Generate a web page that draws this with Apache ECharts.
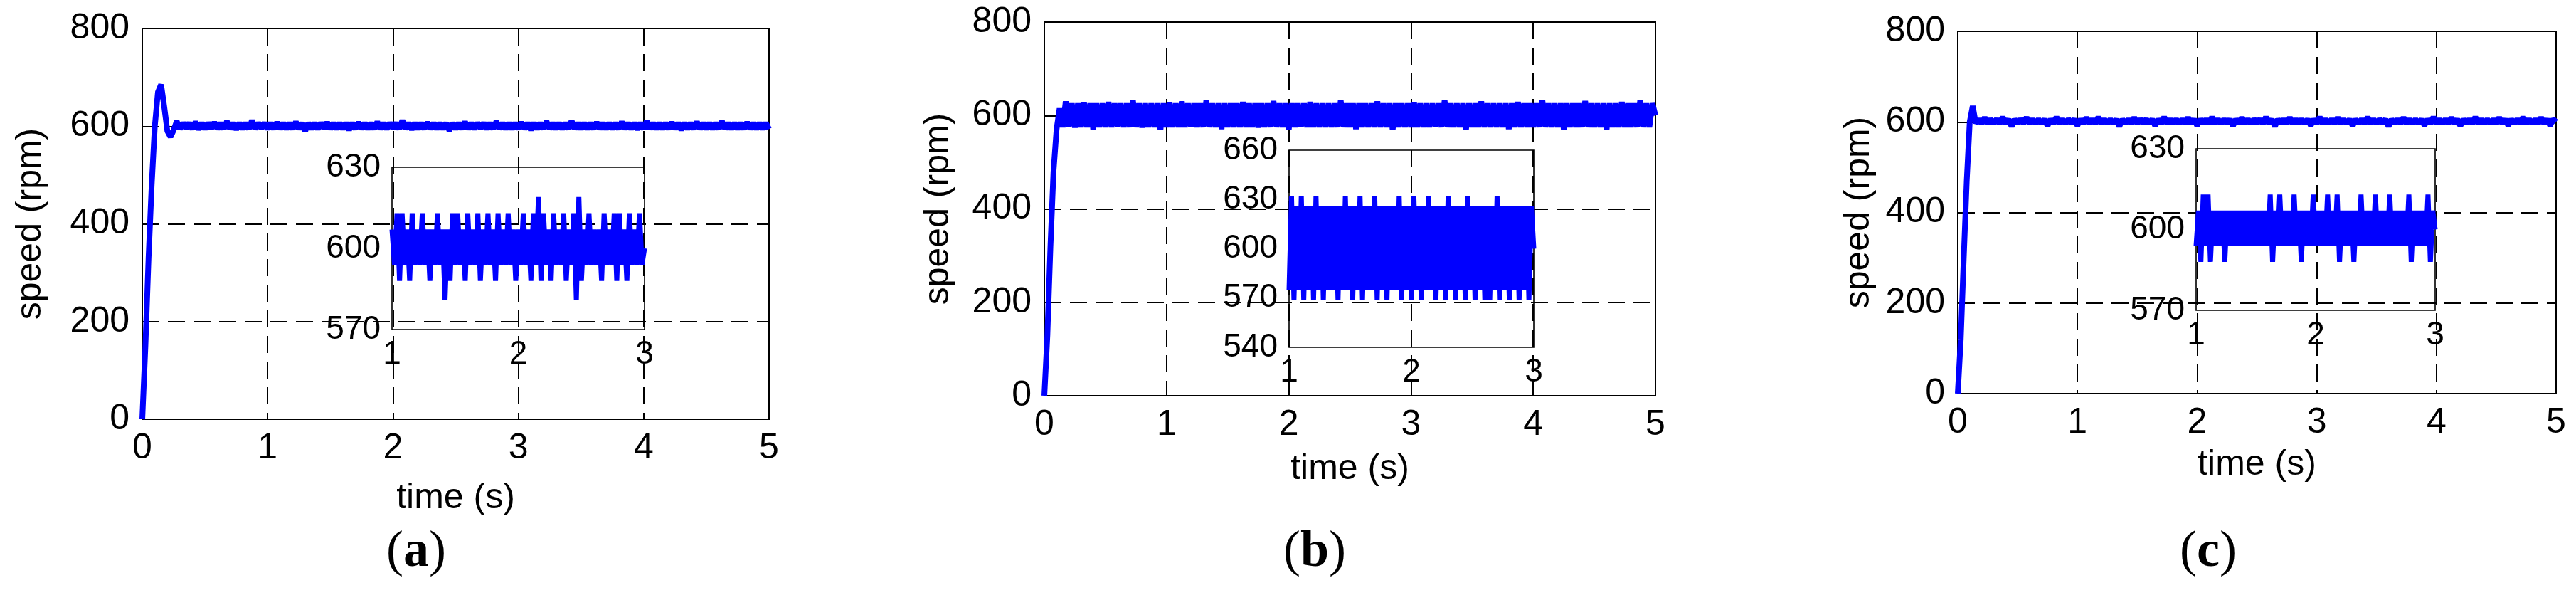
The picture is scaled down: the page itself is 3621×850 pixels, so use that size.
<!DOCTYPE html>
<html><head><meta charset="utf-8">
<script src="https://cdn.jsdelivr.net/npm/echarts@6/dist/echarts.min.js"></script>
<style>html,body{margin:0;padding:0;background:#fff}#c{width:3621px;height:850px}</style>
</head><body><div id="c"></div>
<script>
// Main curves: samples every 0.025 s from 0 to 5 s
const mainStep = 0.025;
const mainA = [0,150,330,480,600,670,685,640,590,578,592,
610,594,607,595,607,594,609,593,607,594,607,595,608,594,607,594,610,594,607,593,
607,594,607,594,612,594,607,595,607,594,607,594,608,594,607,594,607,594,609,594,
607,590,607,594,607,594,607,595,608,594,607,594,607,594,607,592,607,594,608,594,
607,594,607,594,609,594,607,594,607,595,607,594,612,594,607,593,607,594,607,594,
608,594,607,594,607,594,607,591,607,594,607,594,609,594,607,594,607,595,607,594,
607,594,610,594,607,594,607,594,607,594,608,594,607,592,607,594,607,594,610,594,
607,594,607,594,607,594,611,594,607,594,607,594,607,594,608,594,607,594,607,594,
607,594,609,594,607,594,607,593,607,594,611,594,607,594,607,594,607,594,608,594,
607,592,607,594,607,594,609,594,607,594,607,594,607,594,610,594,607,594,607,594,
607,594,608,594,607,594,607,594,607,594];
const mainB = [0,130,320,480,570,615,
575,630,576,626,574,626,575,627,575,626,570,626,575,626,575,629,575,626,576,626,
575,626,575,632,575,626,574,626,575,626,575,626,569,626,575,627,575,626,575,630,
575,626,576,626,575,626,575,632,575,626,575,626,571,626,575,626,575,626,575,629,
575,626,575,626,574,626,575,626,575,631,575,626,575,626,570,626,575,626,576,626,
575,629,575,626,575,626,575,626,575,626,575,632,575,626,575,626,571,626,575,626,
575,626,575,630,575,626,575,626,569,626,575,626,575,626,575,628,575,626,575,626,
575,626,576,626,575,632,575,626,575,626,575,626,570,626,575,626,575,630,575,626,
575,626,575,626,575,626,571,626,575,629,575,626,575,626,575,626,575,632,575,626,
575,626,575,626,570,626,575,626,575,626,575,631,575,626,575,626,575,626,569,626,
575,626,575,629,575,626,575,626,575,632,575,626,575,626,600];
const mainC = [0,120,300,470,600,635,597,
606,596,610,596,606,597,606,596,611,596,606,590,606,596,606,597,610,596,606,596,
606,596,606,591,606,596,611,596,606,596,606,597,606,592,606,596,610,596,606,596,
611,596,606,596,606,596,606,590,606,596,606,596,610,596,606,597,606,596,606,591,
606,596,611,596,606,596,606,596,606,596,610,596,606,592,606,596,606,596,611,596,
606,596,606,596,606,591,606,596,610,596,606,596,606,597,606,596,611,596,606,590,
606,596,606,596,610,596,606,596,606,596,606,592,606,596,611,596,606,596,606,596,
610,596,606,596,606,591,606,596,606,596,611,596,606,596,606,597,606,590,606,596,
606,596,610,596,606,596,606,596,606,592,606,596,611,596,606,596,606,596,610,596,
606,591,606,596,606,596,611,596,606,596,606,596,606,596,610,596,606,592,606,596,
606,596,611,596,606,596,606,596,610,596,606,592,606,600];
// Insets: samples every 0.02 s from 1 to 3 s
const insetStep = 0.02;
const insetA = [607,594,613,588,613,594,607,588,613,594,607,594,613,594,607,588,607,594,613,594,
607,581,607,588,613,594,613,594,607,588,613,594,607,594,613,588,607,594,613,594,
607,588,613,594,607,594,613,594,607,588,607,594,613,594,607,588,613,594,619,588,
613,594,607,588,613,594,607,594,613,588,607,594,613,581,619,588,607,594,613,594,
607,594,607,588,613,594,607,594,613,588,613,594,607,588,613,594,607,594,613,594,600];
const insetB = [575,632,569,626,575,632,569,626,575,626,569,632,575,626,569,626,575,626,575,626,
569,626,575,632,575,626,569,626,575,632,569,626,575,626,575,632,569,626,575,626,
569,626,575,626,575,632,569,626,575,626,569,632,575,626,569,626,575,632,575,626,
569,626,575,626,569,632,575,626,569,626,575,626,569,632,575,626,569,626,575,626,
569,626,569,626,575,632,569,626,575,626,569,626,575,626,569,626,575,626,569,626,600];
const insetC = [594,607,588,613,594,613,588,607,594,607,594,607,588,607,594,607,594,607,594,607,
594,607,594,607,594,607,594,607,594,607,594,613,588,607,594,613,594,607,594,607,
594,613,594,607,588,607,594,607,594,613,594,607,594,607,594,613,594,607,594,613,
588,607,594,607,594,607,588,607,594,613,594,607,594,607,594,613,594,607,594,607,
594,613,594,607,594,607,594,607,594,613,588,607,594,607,594,607,594,613,588,607,600];
const mainXTicks = [0,1,2,3,4,5];
const mainYTicks = [0,200,400,600,800];
const insetYRanges = [[570,630,30],[540,660,30],[570,630,30]];
const captions = ['a','b','c'];

const toPairs = (arr, t0, dt) => arr.map((v,i)=>[+(t0+i*dt).toFixed(4), v]);
const FONT = 'Liberation Sans';
const panels = [
  {main:mainA, inset:insetA, g:{left:200,top:40,width:881,height:549}, ig:{left:551,top:235,width:355,height:228}, yg:132, xg:86, cx:585},
  {main:mainB, inset:insetB, g:{left:1468,top:31,width:859,height:525}, ig:{left:1812,top:211,width:344,height:277}, yg:124, xg:78, cx:1846},
  {main:mainC, inset:insetC, g:{left:2752,top:44,width:841,height:509}, ig:{left:3087,top:209,width:336,height:227}, yg:114, xg:75, cx:3106}
];
const grid=[], xAxis=[], yAxis=[], series=[], graphic=[];
const dash = {color:'#000',type:[24,12],width:2};
panels.forEach((p,k)=>{
  const gi = grid.length;
  grid.push(Object.assign({show:true,borderColor:'#000',borderWidth:2,backgroundColor:'transparent'},p.g));
  grid.push(Object.assign({show:true,borderColor:'#000',borderWidth:1.6,backgroundColor:'transparent'},p.ig));
  xAxis.push({gridIndex:gi,type:'value',min:0,max:5,interval:1,name:'time (s)',nameLocation:'middle',nameGap:p.xg,
    nameTextStyle:{fontFamily:FONT,fontSize:50,color:'#000'},
    axisLine:{show:false},axisTick:{show:false},
    axisLabel:{fontFamily:FONT,fontSize:50,color:'#000',margin:16},
    splitLine:{show:true,lineStyle:dash}});
  yAxis.push({gridIndex:gi,type:'value',min:0,max:800,interval:200,name:'speed (rpm)',nameLocation:'middle',nameGap:p.yg,
    nameTextStyle:{fontFamily:FONT,fontSize:50,color:'#000'},
    axisLine:{show:false},axisTick:{show:false},
    axisLabel:{fontFamily:FONT,fontSize:50,color:'#000',margin:18},
    splitLine:{show:true,lineStyle:dash}});
  const r = insetYRanges[k];
  xAxis.push({gridIndex:gi+1,type:'value',min:1,max:3,interval:1,
    axisLine:{show:false},axisTick:{show:false},
    axisLabel:{fontFamily:FONT,fontSize:46,color:'#000',margin:12},splitLine:{show:false}});
  yAxis.push({gridIndex:gi+1,type:'value',min:r[0],max:r[1],interval:r[2],
    axisLine:{show:false},axisTick:{show:false},
    axisLabel:{fontFamily:FONT,fontSize:46,color:'#000',margin:16},splitLine:{show:false}});
  series.push({type:'line',xAxisIndex:gi,yAxisIndex:gi,data:toPairs(p.main,0,mainStep),showSymbol:false,
    lineStyle:{color:'#0000ff',width:8},animation:false,z:3});
  series.push({type:'line',xAxisIndex:gi+1,yAxisIndex:gi+1,data:toPairs(p.inset,1,insetStep),showSymbol:false,
    lineStyle:{color:'#0000ff',width:7},animation:false,z:4});
  graphic.push({type:'text',left:p.cx-42,top:740,style:{
    text:'{p|(}{b|'+captions[k]+'}{p|)}',
    rich:{p:{fontFamily:'Liberation Serif',fontSize:72,fill:'#000'},b:{fontFamily:'Liberation Serif',fontSize:72,fontWeight:'bold',fill:'#000'}}}});
});
const chart = echarts.init(document.getElementById('c'));
chart.setOption({animation:false,backgroundColor:'#fff',grid,xAxis,yAxis,series,graphic});
</script></body></html>
